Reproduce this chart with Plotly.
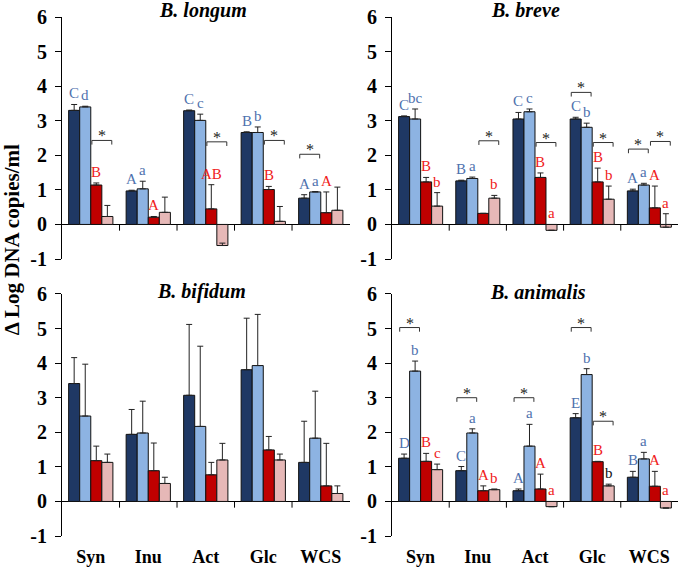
import plotly.graph_objects as go
from plotly.subplots import make_subplots

groups = ['Syn', 'Inu', 'Act', 'Glc', 'WCS']
series_names = ['Series 1', 'Series 2', 'Series 3', 'Series 4']
y_ticks = [-1, 0, 1, 2, 3, 4, 5, 6]
y_ticklabels = ['-1', '0', '1', '2', '3', '4', '5', '6']

# B. longum
longum_vals = [[3.30, 0.97, 3.29, 2.66, 0.76],
               [3.40, 1.03, 3.01, 2.66, 0.94],
               [1.14, 0.21, 0.45, 1.01, 0.34],
               [0.23, 0.35, -0.61, 0.09, 0.41]]
longum_err = [[0.17, 0.02, 0.02, 0.02, 0.10],
              [0.02, 0.22, 0.18, 0.16, 0.01],
              [0.06, 0.02, 0.70, 0.09, 0.60],
              [0.32, 0.44, 0.07, 0.43, 0.67]]
longum_letters = [['C', 'd', 'B', ''], ['A', 'a', 'A', ''], ['C', 'c', 'AB', ''],
                  ['B', 'b', 'B', ''], ['A', 'a', 'A', '']]

# B. breve
breve_vals = [[3.12, 1.26, 3.05, 3.05, 0.97],
              [3.05, 1.33, 3.26, 2.81, 1.14],
              [1.23, 0.32, 1.36, 1.23, 0.48],
              [0.53, 0.76, -0.17, 0.73, -0.08]]
breve_err = [[0.02, 0.02, 0.19, 0.05, 0.05],
             [0.29, 0.04, 0.08, 0.12, 0.05],
             [0.13, 0.00, 0.13, 0.40, 0.63],
             [0.39, 0.08, 0.00, 0.38, 0.39]]
breve_letters = [['C', 'bc', 'B', 'b'], ['B', 'a', '', 'b'], ['C', 'c', 'B', 'a'],
                 ['C', 'b', 'B', 'b'], ['A', 'a', 'A', 'a']]

# B. bifidum
bifidum_vals = [[3.41, 1.94, 3.07, 3.81, 1.13],
                [2.47, 1.98, 2.17, 3.93, 1.83],
                [1.18, 0.89, 0.77, 1.49, 0.45],
                [1.13, 0.52, 1.20, 1.20, 0.23]]
bifidum_err = [[0.75, 0.72, 2.05, 1.49, 1.19],
               [1.50, 0.92, 2.32, 1.48, 1.36],
               [0.42, 0.80, 0.36, 0.39, 1.23],
               [0.24, 0.18, 0.48, 0.17, 0.22]]
bifidum_letters = [['', '', '', '']] * 5

# B. animalis
animalis_vals = [[1.25, 0.89, 0.31, 2.42, 0.70],
                 [3.77, 1.98, 1.60, 3.67, 1.23],
                 [1.16, 0.31, 0.36, 1.15, 0.44],
                 [0.92, 0.34, -0.15, 0.45, -0.19]]
animalis_err = [[0.12, 0.12, 0.05, 0.12, 0.17],
                [0.29, 0.12, 0.63, 0.17, 0.19],
                [0.23, 0.14, 0.43, 0.01, 0.43],
                [0.16, 0.02, 0.00, 0.05, 0.00]]
animalis_letters = [['D', 'b', 'B', 'c'], ['C', 'a', 'A', 'b'], ['A', 'a', 'A', 'a'],
                    ['E', 'b', 'B', 'b'], ['B', 'a', 'A', 'a']]

# significance brackets: (panel, group, pair 0=bars 1+2 / 1=bars 3+4, height)
brackets = [(0, 0, 1, 2.43), (0, 2, 1, 2.39), (0, 3, 1, 2.43), (0, 4, 0, 2.03),
            (1, 1, 1, 2.42), (1, 2, 1, 2.37), (1, 3, 0, 3.82), (1, 3, 1, 2.37),
            (1, 4, 0, 2.18), (1, 4, 1, 2.40),
            (3, 0, 0, 5.03), (3, 1, 0, 3.00), (3, 2, 0, 3.00), (3, 3, 0, 5.03), (3, 3, 1, 2.32)]

panels = [('B. longum', longum_vals, longum_err, longum_letters),
          ('B. breve', breve_vals, breve_err, breve_letters),
          ('B. bifidum', bifidum_vals, bifidum_err, bifidum_letters),
          ('B. animalis', animalis_vals, animalis_err, animalis_letters)]

bar_colors = ['#1F3864', '#8DB3E2', '#C00000', '#E6B8B7']
letter_colors = ['#4F72AE', '#4F72AE', '#F02020', '#F02020']
serif = 'Liberation Serif'
bargap = 0.23
w = (1 - bargap) / 4
offsets = [(k - 1.5) * w for k in range(4)]
xpos = list(range(len(groups)))

fig = make_subplots(rows=2, cols=2)

for p, (title, vals, errs, letters) in enumerate(panels):
    row, col = p // 2 + 1, p % 2 + 1
    for k in range(4):
        fig.add_trace(go.Bar(x=xpos, y=vals[k], name=series_names[k], showlegend=False,
                             marker=dict(color=bar_colors[k], line=dict(color='#111111', width=1)),
                             error_y=dict(type='data', symmetric=False, array=errs[k],
                                          arrayminus=[0] * 5, color='#222222', thickness=1, width=3)),
                      row=row, col=col)
        for g in range(len(groups)):
            txt = letters[g][k]
            if not txt:
                continue
            top = max(0, vals[k][g] + errs[k][g])
            color = letter_colors[k]
            if p == 3 and g == 3 and k == 3:
                color = '#111111'
            fig.add_annotation(x=g + offsets[k], y=top, text=txt, showarrow=False,
                               xanchor='center', yanchor='bottom', yshift=1,
                               font=dict(family=serif, size=15, color=color),
                               row=row, col=col)
    # group boundary ticks on the zero line
    for b in range(len(groups) - 1):
        fig.add_shape(type='line', x0=b + 0.5, x1=b + 0.5, y0=0, y1=-0.18,
                      line=dict(color='black', width=1), row=row, col=col)

for (p, g, pair, h) in brackets:
    row, col = p // 2 + 1, p % 2 + 1
    x0 = g + offsets[2 * pair] - 0.4 * w
    x1 = g + offsets[2 * pair + 1] + 0.4 * w
    d = 0.12
    fig.add_shape(type='path', path=f'M {x0},{h - d} L {x0},{h} L {x1},{h} L {x1},{h - d}',
                  line=dict(color='#333333', width=1), row=row, col=col)
    fig.add_annotation(x=(x0 + x1) / 2, y=h, text='*', showarrow=False,
                       xanchor='center', yanchor='bottom', yshift=-6,
                       font=dict(family=serif, size=16, color='#222222'),
                       row=row, col=col)

xdom = {1: [0.0912, 0.514], 2: [0.5765, 0.997]}
ydom = {1: [0.544, 0.970], 2: [0.0563, 0.4824]}
for r in (1, 2):
    for c in (1, 2):
        fig.update_xaxes(domain=xdom[c], range=[-0.5, 4.5], tickvals=xpos, ticktext=groups,
                         showticklabels=(r == 2), ticks='', showline=False, showgrid=False,
                         zeroline=False, ticklabelstandoff=8, automargin=False,
                         tickfont=dict(family=serif, size=18, color='black', weight='bold'),
                         row=r, col=c)
        fig.update_yaxes(domain=ydom[r], range=[-1, 6], tickvals=y_ticks, ticktext=y_ticklabels,
                         showline=True, linecolor='black', linewidth=1, ticks='outside',
                         ticklen=6, tickcolor='black', showgrid=False, zeroline=True,
                         zerolinecolor='black', zerolinewidth=1, ticklabelstandoff=4,
                         automargin=False,
                         tickfont=dict(family=serif, size=20, color='black', weight='bold'),
                         row=r, col=c)

title_pos = [(0.2985, 0.982), (0.7735, 0.982), (0.2956, 0.486), (0.791, 0.486)]
for (title, _, _, _), (tx, ty) in zip(panels, title_pos):
    fig.add_annotation(xref='paper', yref='paper', x=tx, y=ty, text=f'<b><i>{title}</i></b>',
                       showarrow=False, xanchor='center', yanchor='middle',
                       font=dict(family=serif, size=20, color='black'))

fig.add_annotation(xref='paper', yref='paper', x=12 / 680, y=0.577, textangle=-90,
                   text='<b>Δ Log DNA copies/ml</b>', showarrow=False,
                   xanchor='center', yanchor='middle',
                   font=dict(family=serif, size=21, color='black'))

fig.update_layout(width=680, height=568, barmode='group', bargap=bargap, bargroupgap=0,
                  margin=dict(l=0, r=0, t=0, b=0), paper_bgcolor='white',
                  plot_bgcolor='white', showlegend=False)

page_css = ("document.documentElement.style.margin='0';"
            "document.documentElement.style.overflow='hidden';"
            "document.body.style.margin='0';"
            "document.body.style.overflow='hidden';")
fig.write_html('out.html', config={'displayModeBar': False}, post_script=page_css)
